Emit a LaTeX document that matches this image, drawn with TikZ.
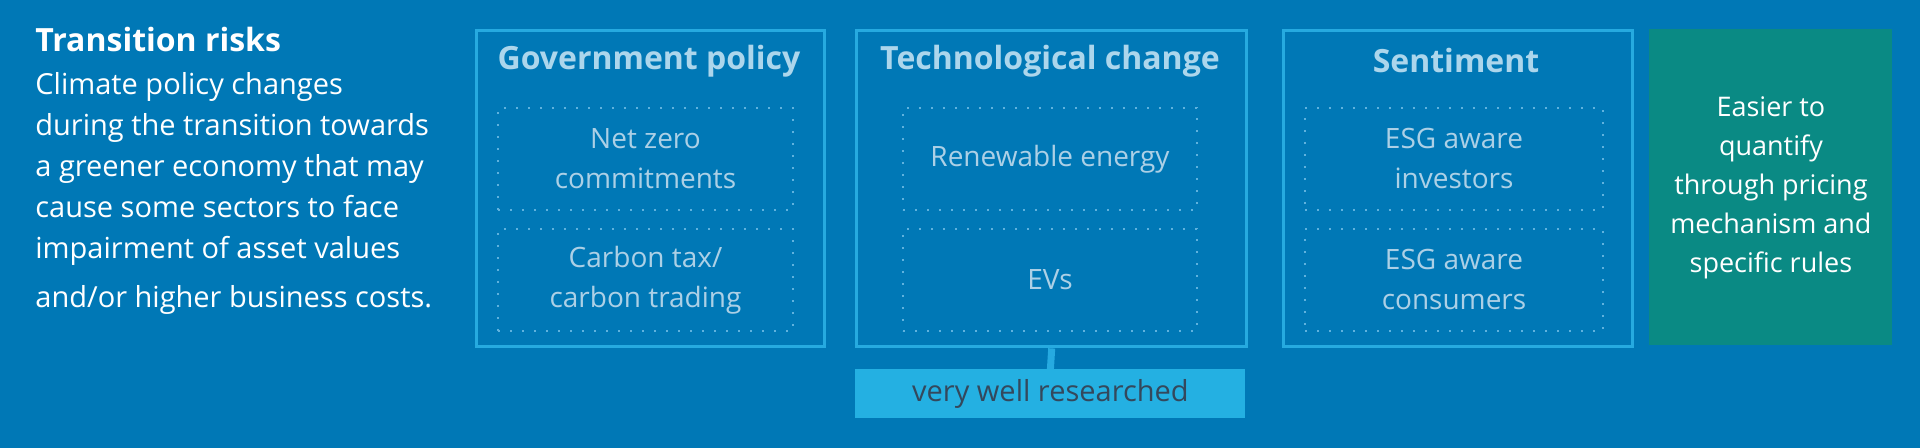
\documentclass[tikz,border=0pt]{standalone}
\usepackage{fontspec}
\setmainfont{Open Sans}
\definecolor{bgblue}{RGB}{0,120,182}
\definecolor{frameblue}{RGB}{38,170,224}
\definecolor{titleblue}{RGB}{172,214,236}
\definecolor{innertext}{RGB}{172,208,230}
\definecolor{dotblue}{RGB}{95,178,222}
\definecolor{tealbox}{RGB}{10,138,132}
\definecolor{barblue}{RGB}{36,176,226}
\definecolor{bartext}{RGB}{52,72,92}
\begin{document}
\begin{tikzpicture}[x=1pt,y=-1pt,
  groupbox/.style={draw=frameblue,line width=1.7pt,anchor=north west,inner sep=0pt,minimum height=158pt},
  itembox/.style={draw=dotblue,line width=1pt,dash pattern=on 1pt off 5pt,anchor=north west,inner sep=0pt,minimum height=51pt,
     align=center,text=innertext,font=\fontsize{14}{20}\selectfont},
  grouptitle/.style={text=titleblue,font=\fontsize{16}{19}\selectfont\bfseries,inner sep=0pt},
  bodytext/.style={text=white,align=left,inner sep=0pt,font=\fontsize{14.5}{20.5}\selectfont},
]
\fill[bgblue] (0,0) rectangle (960,224);
\useasboundingbox (0,0) rectangle (960,224);

% left text
\node[anchor=base west,inner sep=0pt,text=white,font=\fontsize{16}{19}\selectfont\bfseries] (head) at (17.5,26) {Transition risks};
\node[bodytext,anchor=north west] (body) at (17.5,35.8) {Climate policy changes\\during the transition towards\\a greener economy that may\\cause some sectors to face\\impairment of asset values\\[4pt]and/or higher business costs.};

% group 1
\node[groupbox,minimum width=174pt] (g1) at (237.5,14.5) {};
\node[grouptitle] (g1t) at (324.5,30.5) {Government policy};
\node[itembox,minimum width=147.5pt] (g1a) at (248.5,53.5) {Net zero\\commitments};
\node[itembox,minimum width=147.5pt] (g1b) at (248.5,114) {Carbon tax/\\carbon trading};

% group 2
\node[groupbox,minimum width=195pt] (g2) at (427.5,14.5) {};
\node[grouptitle] (g2t) at (525,30.5) {Technological change};
\node[itembox,minimum width=147pt] (g2a) at (451,53.5) {Renewable energy};
\node[itembox,minimum width=147pt] (g2b) at (451,114) {EVs};

% group 3
\node[groupbox,minimum width=174.5pt] (g3) at (641,14.5) {};
\node[grouptitle] (g3t) at (728,30.5) {Sentiment};
\node[itembox,minimum width=149pt] (g3a) at (652,53.5) {ESG aware\\investors};
\node[itembox,minimum width=149pt] (g3b) at (652,114) {ESG aware\\consumers};

% teal box
\node[fill=tealbox,anchor=north west,inner sep=0pt,minimum width=121.5pt,minimum height=158pt,
  align=center,text=white,font=\fontsize{13.5}{19.5}\selectfont] (easy) at (824.5,14.5)
  {Easier to\\quantify\\through pricing\\mechanism and\\specific rules};

% bar
\node[fill=barblue,anchor=north west,inner sep=0pt,minimum width=195pt,minimum height=24.5pt,
  text=bartext,font=\fontsize{14.5}{16}\selectfont] (bar) at (427.5,184.5) {very well researched};
\draw[frameblue,line width=3.5pt] (g2.south) -- (bar.north);
\end{tikzpicture}
\end{document}
